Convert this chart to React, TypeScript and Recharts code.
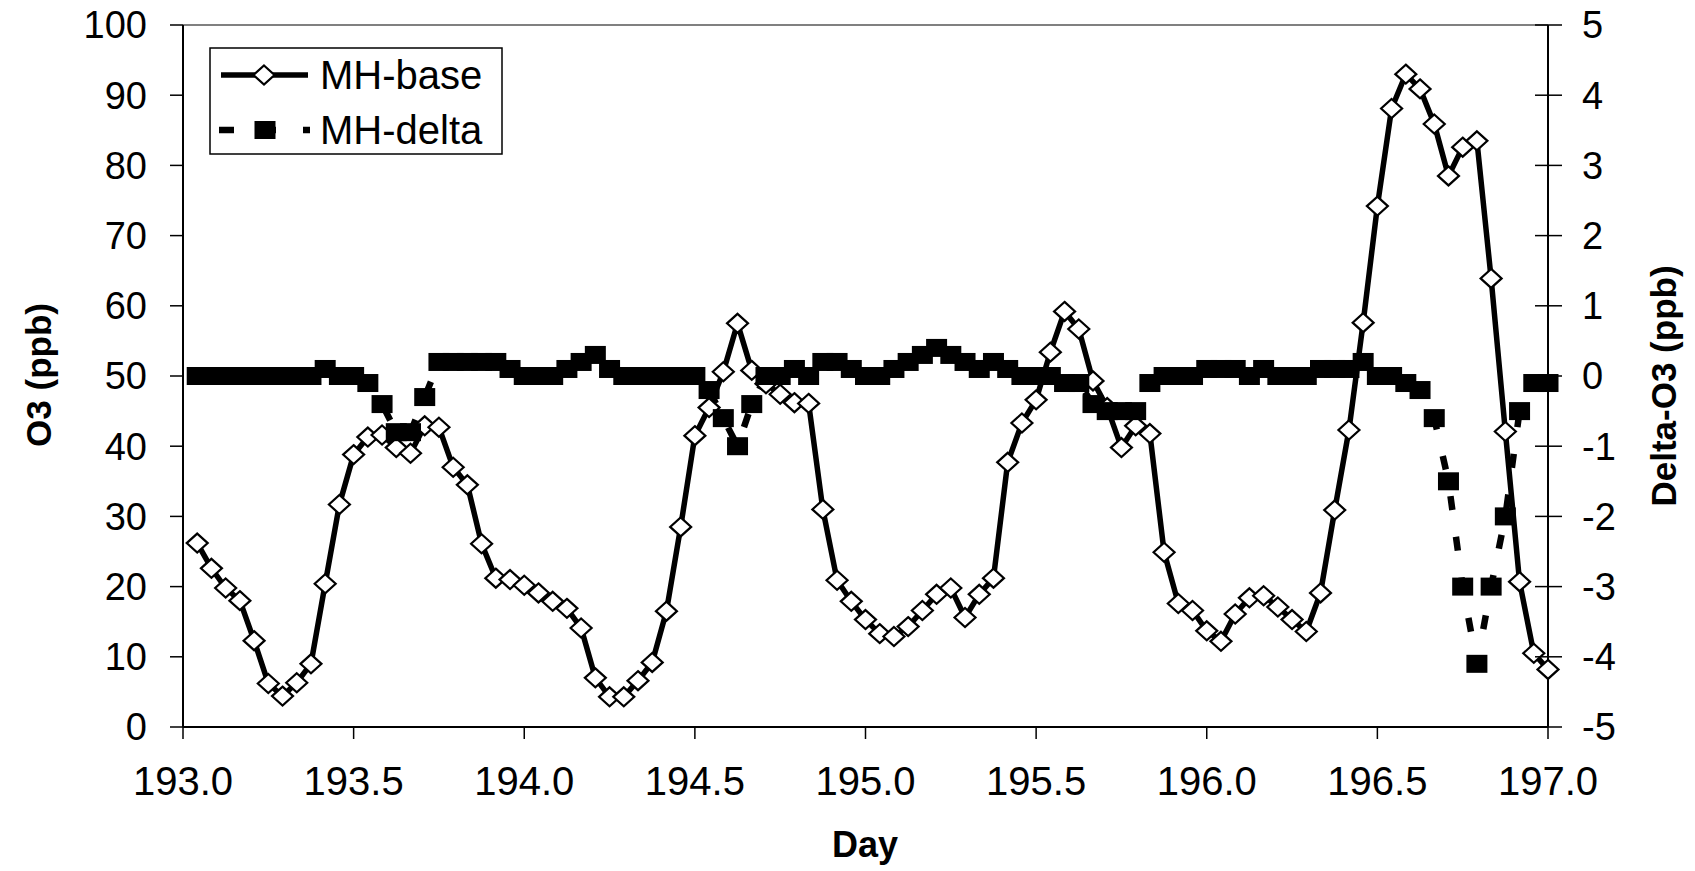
import React from "react";
import { ComposedChart, Line, XAxis, YAxis, ReferenceLine } from "recharts";

const FONT = '"Liberation Sans", Arial, Helvetica, sans-serif';

// hourly model output, first value at day 193 + 1/24
const startDay = 193;

const mhBase = [
  26.2, 22.6, 19.8, 18.0, 12.3, 6.2, 4.4, 6.3, 9.0, 20.4, 31.7, 38.8,
  41.3, 41.6, 39.8, 39.0, 42.9, 42.7, 37.0, 34.5, 26.1, 21.2, 21.0, 20.2,
  19.1, 17.9, 16.9, 14.1, 7.0, 4.3, 4.3, 6.6, 9.2, 16.5, 28.5, 41.5,
  45.5, 50.6, 57.5, 50.8, 48.9, 47.4, 46.2, 46.1, 31.0, 20.9, 17.9, 15.3,
  13.3, 12.9, 14.3, 16.6, 18.9, 19.8, 15.6, 18.9, 21.2, 37.7, 43.3, 46.6,
  53.4, 59.2, 56.7, 49.3, 45.5, 39.8, 42.9, 41.8, 24.9, 17.6, 16.6, 13.7,
  12.2, 16.1, 18.4, 18.7, 17.1, 15.3, 13.6, 19.1, 30.9, 42.3, 57.6, 74.2,
  88.1, 93.0, 90.9, 85.9, 78.5, 82.6, 83.5, 63.9, 42.1, 20.7, 10.5, 8.2,
];

const mhDelta = [
  0, 0, 0, 0, 0, 0, 0, 0, 0, 0.1, 0, 0,
  -0.1, -0.4, -0.8, -0.8, -0.3, 0.2, 0.2, 0.2, 0.2, 0.2, 0.1, 0,
  0, 0, 0.1, 0.2, 0.3, 0.1, 0, 0, 0, 0, 0, 0,
  -0.2, -0.6, -1.0, -0.4, 0, 0, 0.1, 0, 0.2, 0.2, 0.1, 0,
  0, 0.1, 0.2, 0.3, 0.4, 0.3, 0.2, 0.1, 0.2, 0.1, 0, 0,
  0, -0.1, -0.1, -0.4, -0.5, -0.5, -0.5, -0.1, 0, 0, 0, 0.1,
  0.1, 0.1, 0, 0.1, 0, 0, 0, 0.1, 0.1, 0.1, 0.2, 0,
  0, -0.1, -0.2, -0.6, -1.5, -3.0, -4.1, -3.0, -2.0, -0.5, -0.1, -0.1,
];

const dayTicks = [193, 193.5, 194, 194.5, 195, 195.5, 196, 196.5, 197];
const o3Ticks = [0, 10, 20, 30, 40, 50, 60, 70, 80, 90, 100];
const deltaTicks = [-5, -4, -3, -2, -1, 0, 1, 2, 3, 4, 5];

const data = mhBase.map((base, i) => ({
  day: startDay + (i + 1) / 24,
  base,
  delta: mhDelta[i],
}));

function Diamond(props: any) {
  const { cx, cy, index } = props;
  if (cx == null || cy == null) return <g key={`d${index}`} />;
  return (
    <path
      key={`d${index}`}
      d={`M${cx},${cy - 9.5}L${cx + 10.5},${cy}L${cx},${cy + 9.5}L${cx - 10.5},${cy}Z`}
      fill="#fff"
      stroke="#000"
      strokeWidth={2.2}
    />
  );
}

function Square(props: any) {
  const { cx, cy, index } = props;
  if (cx == null || cy == null) return <g key={`s${index}`} />;
  return <rect key={`s${index}`} x={cx - 10.5} y={cy - 9} width={21} height={18} fill="#000" />;
}

// right axis ticks cross the axis line in the original
function RightTick(props: any) {
  const { x, y, payload } = props;
  return (
    <g>
      <line x1={x - 13} x2={x + 14} y1={y} y2={y} stroke="#000" strokeWidth={1.5} />
      <text x={x + 34} y={y} dy="0.35em" fontSize={38} fontFamily={FONT} fill="#000">
        {payload.value}
      </text>
    </g>
  );
}

export default function App() {
  return (
    <div style={{ position: "absolute", left: 0, top: 0, width: 1695, height: 871, background: "#fff" }}>
      <ComposedChart
        width={1695}
        height={871}
        data={data}
        margin={{ top: 25, right: 0, bottom: 0, left: 0 }}
      >
        <XAxis
          dataKey="day"
          type="number"
          domain={[193, 197]}
          ticks={dayTicks}
          interval={0}
          tickFormatter={(v: number) => v.toFixed(1)}
          height={144}
          tickSize={12}
          tickMargin={28}
          tick={{ fontSize: 40, fill: "#000", fontFamily: FONT }}
          tickLine={{ stroke: "#000", strokeWidth: 1.5 }}
          axisLine={{ stroke: "#000", strokeWidth: 2 }}
        />
        <YAxis
          yAxisId="left"
          domain={[0, 100]}
          ticks={o3Ticks}
          interval={0}
          width={183}
          tickSize={13}
          tickMargin={23}
          tick={{ fontSize: 38, fill: "#000", fontFamily: FONT }}
          tickLine={{ stroke: "#000", strokeWidth: 1.5 }}
          axisLine={{ stroke: "#000", strokeWidth: 2 }}
        />
        <YAxis
          yAxisId="right"
          orientation="right"
          domain={[-5, 5]}
          ticks={deltaTicks}
          interval={0}
          width={147}
          tickSize={0}
          tickMargin={0}
          tickLine={false}
          tick={<RightTick />}
          axisLine={{ stroke: "#000", strokeWidth: 2 }}
        />
        <ReferenceLine yAxisId="left" y={100} stroke="#808080" strokeWidth={2} />
        <Line
          yAxisId="left"
          dataKey="base"
          type="linear"
          stroke="#000"
          strokeWidth={5.5}
          dot={Diamond}
          activeDot={false}
          isAnimationActive={false}
          name="MH-base"
        />
        <Line
          yAxisId="right"
          dataKey="delta"
          type="linear"
          stroke="#000"
          strokeWidth={6.5}
          strokeDasharray="14 27"
          dot={Square}
          activeDot={false}
          isAnimationActive={false}
          name="MH-delta"
        />
      </ComposedChart>

      <svg
        width={1695}
        height={871}
        style={{ position: "absolute", left: 0, top: 0, pointerEvents: "none" }}
        fontFamily={FONT}
      >
        <rect x={210} y={48} width={292} height={106} fill="#fff" stroke="#000" strokeWidth={1.5} />
        <line x1={221} x2={308} y1={75} y2={75} stroke="#000" strokeWidth={5.5} />
        <Diamond cx={264} cy={75} index="legend" />
        <text x={320} y={75} dy="0.36em" fontSize={40} fill="#000">MH-base</text>
        <line x1={219} x2={310} y1={130} y2={130} stroke="#000" strokeWidth={6.5} strokeDasharray="15 27" />
        <Square cx={265} cy={130} index="legend" />
        <text x={320} y={130} dy="0.36em" fontSize={40} fill="#000">MH-delta</text>

        <text
          x={38}
          y={375}
          transform="rotate(-90 38 375)"
          textAnchor="middle"
          dy="0.36em"
          fontSize={35}
          fontWeight="bold"
          fill="#000"
        >
          O3 (ppb)
        </text>
        <text
          x={1663}
          y={386}
          transform="rotate(-90 1663 386)"
          textAnchor="middle"
          dy="0.36em"
          fontSize={35}
          fontWeight="bold"
          fill="#000"
        >
          Delta-O3 (ppb)
        </text>
        <text x={865} y={857} textAnchor="middle" fontSize={36} fontWeight="bold" fill="#000">
          Day
        </text>
      </svg>
    </div>
  );
}
